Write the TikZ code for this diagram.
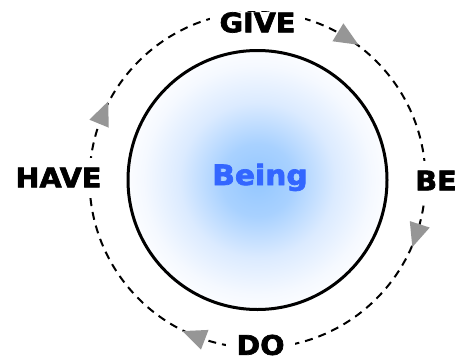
\documentclass[tikz,border=0pt]{standalone}
\usepackage{fontspec}
\setmainfont{DejaVu Sans}[BoldFeatures={FakeBold=2.5,FakeStretch=1.06}]
\definecolor{beingblue}{RGB}{51,102,255}
\definecolor{arrowgray}{RGB}{150,150,150}
\pgfdeclareradialshading{glow}{\pgfpoint{0bp}{0bp}}{rgb(0bp)=(0.58,0.78,1); rgb(7bp)=(0.66,0.82,1); rgb(15bp)=(0.86,0.92,1); rgb(22bp)=(0.96,0.975,1); rgb(25bp)=(0.985,0.99,1); rgb(50bp)=(0.985,0.99,1)}
\begin{document}
\begin{tikzpicture}[x=1pt,y=1pt,
  word/.style={font=\bfseries\fontsize{27}{30}\selectfont, fill=white, inner xsep=10pt, inner ysep=10pt},
  flatword/.style={word, inner ysep=0pt},
  ring/.style={draw=black, line width=2pt, dash pattern=on 8pt off 6pt},
  corering/.style={draw=black, line width=3pt},
  arrowtri/.style={fill=arrowgray}]
\useasboundingbox (0,0) rectangle (458,360);
\coordinate (C) at (257.5,180);
\draw[ring] (C) circle (168);
\shade[shading=glow] (C) circle (129.5);
\draw[corering] (C) circle (129.5);
\node[flatword] (give) at (257.5,337.5) {GIVE};
\node[word] (be) at (436,179.5) {BE};
\node[flatword] (do) at (260.5,15) {DO};
\node[word] (have) at (58.5,182.5) {HAVE};
\node[font=\bfseries\fontsize{28}{32}\selectfont, text=beingblue, anchor=base, inner sep=0pt] (being) at (260,175) {Being};
\foreach \a in {58.7,-18,-111,157.7}{
  \begin{scope}[shift={(C)}, rotate=\a]
    \fill[arrowtri] (157.5,8) -- (178.5,8) -- (168,-16) -- cycle;
  \end{scope}}
\end{tikzpicture}
\end{document}
